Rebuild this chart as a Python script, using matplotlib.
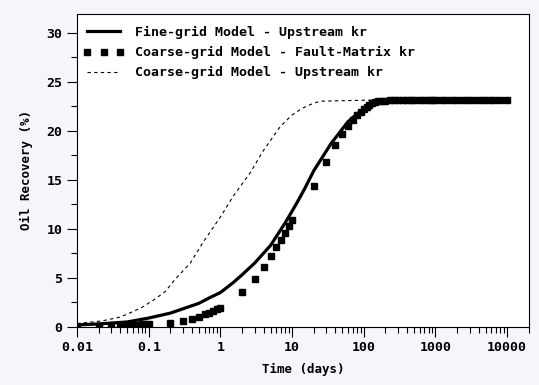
import matplotlib.pyplot as plt
from matplotlib.ticker import FixedLocator, LogLocator, MultipleLocator, NullFormatter

plt.rcParams['font.family'] = 'DejaVu Sans Mono'
plt.rcParams['font.weight'] = 'bold'

# fine-grid model, upstream kr (solid line)
fine_t = [0.01, 0.02, 0.05, 0.1, 0.2, 0.5, 0.72, 1, 1.5, 2, 3, 5, 8, 10, 12, 15,
          20, 27, 35, 47, 60, 80, 100, 130, 170, 250, 500, 1000, 2000, 5000, 10000]
fine_y = [0.2, 0.3, 0.5, 0.9, 1.4, 2.4, 3.0, 3.5, 4.5, 5.3, 6.5, 8.3, 10.6, 11.8, 12.8, 14.1,
          15.9, 17.4, 18.7, 19.9, 20.9, 21.7, 22.2, 22.75, 23.0, 23.05, 23.1, 23.1, 23.1, 23.1, 23.1]

# coarse-grid model, fault-matrix kr (squares)
fm_t = [0.01, 0.02, 0.03, 0.04, 0.05, 0.06, 0.07, 0.08, 0.09, 0.1,
        0.2, 0.3, 0.4, 0.5, 0.6, 0.7, 0.8, 0.9, 1.0,
        2, 3, 4, 5, 6, 7, 8, 9, 10,
        20, 30, 40, 50, 60, 70, 80, 90, 100,
        110, 120, 130, 145, 160, 180, 200, 230, 260, 300, 350, 400, 450, 500,
        600, 700, 800, 900, 1000, 1200, 1400, 1700, 2000, 2400, 2800, 3300,
        4000, 4800, 5600, 6600, 8000, 10000]
fm_y = [0.05, 0.05, 0.1, 0.1, 0.15, 0.2, 0.2, 0.25, 0.25, 0.3,
        0.37, 0.6, 0.8, 1.0, 1.3, 1.46, 1.63, 1.8, 1.9,
        3.54, 4.9, 6.15, 7.2, 8.1, 8.9, 9.6, 10.3, 10.85,
        14.4, 16.8, 18.5, 19.7, 20.5, 21.1, 21.6, 21.9, 22.2,
        22.4, 22.6, 22.8, 22.9, 23.0, 23.0, 23.05, 23.1, 23.1, 23.1, 23.1, 23.1, 23.1, 23.1,
        23.1, 23.1, 23.1, 23.1, 23.1, 23.1, 23.1, 23.1, 23.1, 23.1, 23.1, 23.1,
        23.1, 23.1, 23.1, 23.1, 23.1, 23.1]

# coarse-grid model, upstream kr (dashed)
up_t = [0.01, 0.012, 0.022, 0.04, 0.058, 0.081, 0.12, 0.17, 0.23, 0.38, 0.57, 1,
        1.5, 2.6, 4, 6.8, 10, 14, 20, 25, 50, 100, 1000, 10000]
up_y = [0.3, 0.4, 0.6, 1.0, 1.5, 2.0, 2.8, 3.6, 4.8, 6.5, 8.6, 11.2,
        13.3, 15.7, 18.0, 20.4, 21.6, 22.3, 22.8, 23.0, 23.05, 23.1, 23.1, 23.1]

xticks = [0.01, 0.1, 1, 10, 100, 1000, 10000]
xticklabels = ['0.01', '0.1', '1', '10', '100', '1000', '10000']

fig = plt.figure(figsize=(5.39, 3.85), dpi=100, facecolor='#f4f6fb')
ax = fig.add_axes([0.143, 0.151, 0.838, 0.813])
ax.set_facecolor('white')

ax.plot(fine_t, fine_y, color='black', lw=2.3, label='Fine-grid Model - Upstream kr')
ax.plot(fm_t, fm_y, 's', color='black', ms=4.0, label='Coarse-grid Model - Fault-Matrix kr')
ax.plot(up_t, up_y, color='black', lw=0.8, dashes=(3, 3), label='Coarse-grid Model - Upstream kr')

ax.set_xscale('log')
ax.set_xlim(0.01, 20000)
ax.set_ylim(0, 31.9)
ax.xaxis.set_major_locator(FixedLocator(xticks))
ax.set_xticklabels(xticklabels)
ax.xaxis.set_minor_locator(LogLocator(base=10, subs=range(2, 10), numticks=20))
ax.xaxis.set_minor_formatter(NullFormatter())
ax.yaxis.set_major_locator(MultipleLocator(5))
ax.yaxis.set_minor_locator(MultipleLocator(2.5))

ax.tick_params(which='major', direction='out', length=7, width=0.8, labelsize=9.5)
ax.tick_params(which='minor', direction='out', length=4.3, width=0.8)
for s in ax.spines.values():
    s.set_linewidth(0.8)

ax.set_xlabel('Time (days)', fontsize=9, fontweight='bold', labelpad=6)
ax.set_ylabel('Oil Recovery (%)', fontsize=9, fontweight='bold', labelpad=10)

ax.legend(loc='upper left', bbox_to_anchor=(-0.012, 1.0), frameon=False, numpoints=3,
          handlelength=3.1, handletextpad=0.8, labelspacing=0.55,
          borderaxespad=0.5, prop={'family': 'DejaVu Sans Mono', 'weight': 'bold', 'size': 9.5})

fig.savefig('out.png', dpi=100, facecolor=fig.get_facecolor())
